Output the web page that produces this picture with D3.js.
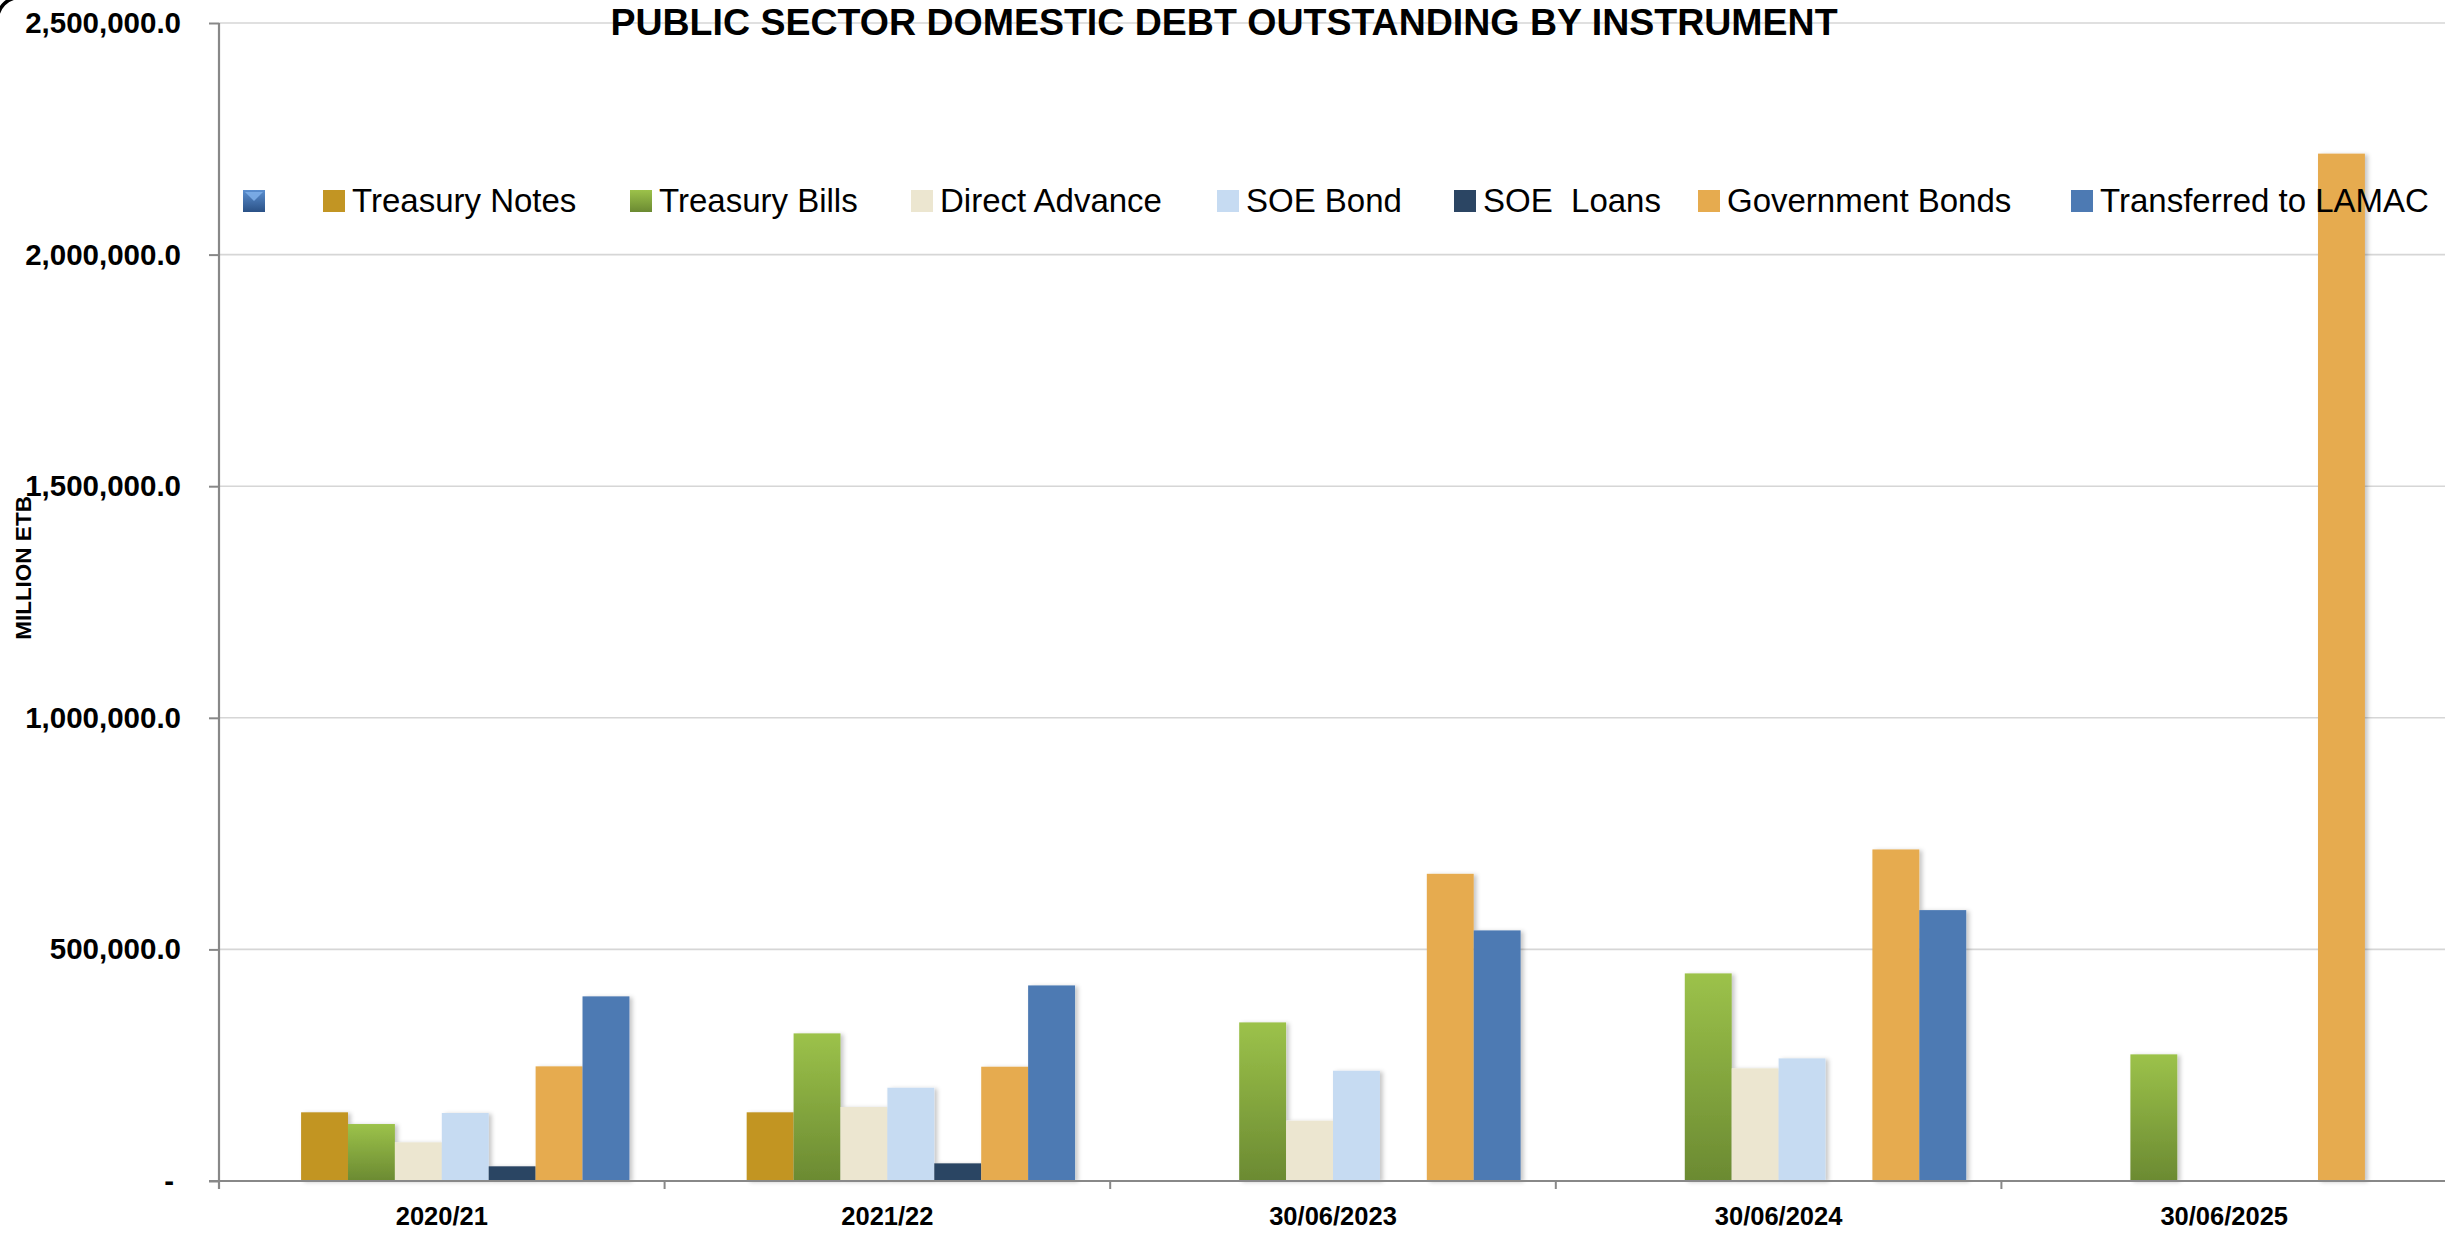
<!DOCTYPE html>
<html>
<head>
<meta charset="utf-8">
<script src="https://cdn.jsdelivr.net/npm/d3@7"></script>
<style>
  html, body { margin: 0; padding: 0; background: #ffffff; }
  svg { display: block; }
  text { font-family: "Liberation Sans", Arial, sans-serif; }
</style>
</head>
<body>
<svg id="chart" width="2445" height="1239"></svg>
<script>
// ---------------- DATA ----------------
const categories = ["2020/21", "2021/22", "30/06/2023", "30/06/2024", "30/06/2025"];
const seriesNames = ["", "Treasury Notes", "Treasury Bills", "Direct Advance", "SOE Bond", "SOE  Loans", "Government Bonds", "Transferred to LAMAC"];
const unnamedSeries   = [null, null, null, null, null];
const treasuryNotes   = [148300, 148300, null, null, null];
const treasuryBills   = [123000, 318700, 342400, 448200, 273400];
const directAdvance   = [83500, 159700, 130200, 243200, null];
const soeBond         = [146800, 201400, 238000, 264700, null];
const soeLoans        = [31700, 38100, null, null, null];
const governmentBonds = [247500, 246700, 663200, 715800, 2218000];
const lamac           = [398600, 422200, 541000, 584800, null];
const yTickValues = [0, 500000, 1000000, 1500000, 2000000, 2500000];
const titleText = "PUBLIC SECTOR DOMESTIC DEBT OUTSTANDING BY INSTRUMENT";
const yAxisTitle = "MILLION ETB";

const seriesValues = [unnamedSeries, treasuryNotes, treasuryBills, directAdvance, soeBond, soeLoans, governmentBonds, lamac];

// ---------------- STYLE ----------------
const fills = ["url(#gBlue)", "#c29523", "url(#gGreen)", "#ece6d0", "#c6dbf2", "#2b4563", "#e6ab4f", "#4d7ab3"];

const W = 2445, H = 1239;
const plot = { left: 219, right: 2447, top: 23, bottom: 1181 };

const svg = d3.select("#chart");
const defs = svg.append("defs");

const gg = defs.append("linearGradient").attr("id", "gGreen").attr("x1", 0).attr("y1", 0).attr("x2", 0).attr("y2", 1);
gg.append("stop").attr("offset", "0%").attr("stop-color", "#9cc24a");
gg.append("stop").attr("offset", "100%").attr("stop-color", "#6b8a32");

const gb = defs.append("linearGradient").attr("id", "gBlue").attr("x1", 0).attr("y1", 0).attr("x2", 0).attr("y2", 1);
gb.append("stop").attr("offset", "0%").attr("stop-color", "#5b8fd0");
gb.append("stop").attr("offset", "100%").attr("stop-color", "#2a5186");

const flt = defs.append("filter").attr("id", "shadow").attr("x", "-20%").attr("y", "-5%").attr("width", "150%").attr("height", "115%");
flt.append("feDropShadow").attr("dx", 3).attr("dy", 1).attr("stdDeviation", 2).attr("flood-color", "#000").attr("flood-opacity", 0.22);

svg.append("rect").attr("width", W).attr("height", H).attr("fill", "#fff");

// chart-area rounded border (only corner visible)
svg.append("rect").attr("x", -2.5).attr("y", -2.5).attr("width", W + 40).attr("height", H + 40)
  .attr("rx", 22).attr("fill", "none").attr("stroke", "#000").attr("stroke-width", 3.5);

// ---------------- SCALES ----------------
const x0 = d3.scaleBand().domain(categories).range([plot.left, plot.right]).paddingInner(0).paddingOuter(0);
const x1 = d3.scaleBand().domain(seriesNames.map((d, i) => i)).range([0, x0.bandwidth()]).paddingInner(0).paddingOuter(0.75);
const y = d3.scaleLinear().domain([0, 2500000]).range([plot.bottom, plot.top]);

// gridlines
svg.append("g").selectAll("line").data(yTickValues.filter(d => d > 0)).join("line")
  .attr("x1", plot.left).attr("x2", W).attr("y1", d => y(d)).attr("y2", d => y(d))
  .attr("stroke", "#d6d6d6").attr("stroke-width", 1.6);

// ---------------- BARS ----------------
const barData = [];
categories.forEach((c, ci) => {
  seriesValues.forEach((arr, si) => {
    const v = arr[ci];
    if (v != null && v > 0) barData.push({ c, si, v });
  });
});
svg.append("g").attr("filter", "url(#shadow)").selectAll("rect").data(barData).join("rect")
  .attr("x", d => x0(d.c) + x1(d.si))
  .attr("width", x1.bandwidth())
  .attr("y", d => y(d.v))
  .attr("height", d => y(0) - y(d.v))
  .attr("fill", d => fills[d.si]);

// ---------------- AXES ----------------
const yAxis = d3.axisLeft(y).tickValues(yTickValues).tickSize(10).tickPadding(28)
  .tickFormat(d => d === 0 ? "-" : d3.format(",.1f")(d));
const gy = svg.append("g").attr("transform", `translate(${plot.left},0)`).call(yAxis);
gy.select(".domain").attr("stroke", "#888").attr("stroke-width", 2.2).attr("d", `M0,${plot.top}V${plot.bottom + 8}`);
gy.selectAll(".tick line").attr("stroke", "#888").attr("stroke-width", 2);
gy.selectAll(".tick text").attr("font-size", 29.5).attr("font-weight", "bold").attr("fill", "#000")
  .attr("font-family", "'Liberation Sans', Arial, sans-serif");
gy.selectAll(".tick text").filter(d => d === 0).attr("dx", -7);

// x baseline
svg.append("line").attr("x1", plot.left - 10).attr("x2", W).attr("y1", y(0)).attr("y2", y(0))
  .attr("stroke", "#888").attr("stroke-width", 2.2);

// category boundary ticks
svg.append("g").selectAll("line").data(categories.slice(1)).join("line")
  .attr("x1", d => x0(d)).attr("x2", d => x0(d))
  .attr("y1", y(0)).attr("y2", y(0) + 8).attr("stroke", "#888").attr("stroke-width", 2);

// category labels
const xAxis = d3.axisBottom(x0).tickSize(0).tickPadding(0);
const gx = svg.append("g").attr("transform", `translate(0,${y(0)})`).call(xAxis);
gx.select(".domain").remove();
gx.selectAll(".tick text").attr("font-size", 25.5).attr("font-weight", "bold").attr("fill", "#000")
  .attr("font-family", "'Liberation Sans', Arial, sans-serif")
  .attr("dy", 0).attr("y", 44);

// y axis title
svg.append("text").attr("transform", "translate(31,568) rotate(-90)")
  .attr("text-anchor", "middle").attr("font-size", 22.5).attr("font-weight", "bold")
  .text(yAxisTitle);

// title
svg.append("text").attr("x", 1224).attr("y", 35).attr("text-anchor", "middle")
  .attr("font-size", 37.5).attr("font-weight", "bold").text(titleText);

// ---------------- LEGEND ----------------
const legendX = [243, 323, 630, 911, 1217, 1454, 1698, 2071];
const legend = svg.append("g").selectAll("g").data(seriesNames.map((n, i) => ({ n, i }))).join("g")
  .attr("transform", d => `translate(${legendX[d.i]},190)`);
legend.append("rect").attr("width", 22).attr("height", 22).attr("fill", d => fills[d.i]);
legend.filter(d => d.i === 0).append("path").attr("d", "M2,2H20L11,11Z").attr("fill", "#7fb0ea").attr("opacity", 0.85);
legend.append("text").attr("x", 29).attr("y", 22).attr("font-size", 33).attr("fill", "#000")
  .style("white-space", "pre").text(d => d.n);
</script>
</body>
</html>
